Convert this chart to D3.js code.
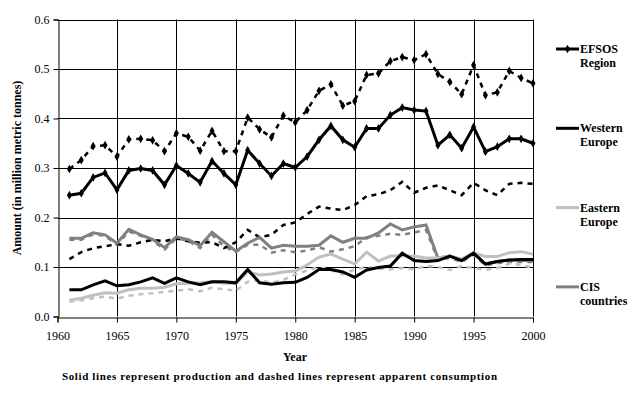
<!DOCTYPE html>
<html lang="en">
<head>
<meta charset="UTF-8">
<title>Production and apparent consumption</title>
<script src="https://d3js.org/d3.v7.min.js"></script>
<style>
    body { margin: 0; background: #fff; }
    svg { display: block; }
    .grid line { stroke: #000; stroke-width: 1px; }
</style>
</head>
<body>
<svg width="642" height="394"></svg>
<script>
// years 1961-2000
const years = d3.range(1961, 2001);

// solid = production, dashed = apparent consumption
const efsosProd = [0.245,0.249,0.281,0.290,0.256,0.295,0.299,0.295,0.266,0.305,
                   0.289,0.271,0.314,0.289,0.266,0.336,0.309,0.284,0.309,0.301,
                   0.323,0.357,0.385,0.357,0.342,0.380,0.380,0.407,0.422,0.417,
                   0.415,0.346,0.367,0.340,0.383,0.333,0.343,0.359,0.359,0.350];
const efsosCons = [0.298,0.316,0.344,0.346,0.323,0.358,0.359,0.356,0.334,0.370,
                   0.363,0.335,0.375,0.334,0.334,0.402,0.378,0.362,0.406,0.392,
                   0.417,0.456,0.469,0.426,0.435,0.488,0.491,0.516,0.524,0.518,
                   0.530,0.490,0.474,0.449,0.508,0.447,0.453,0.496,0.482,0.471];
const westProd = [0.054,0.054,0.064,0.072,0.062,0.064,0.070,0.078,0.067,0.078,
                  0.070,0.064,0.070,0.070,0.068,0.095,0.068,0.065,0.068,0.069,
                  0.079,0.095,0.095,0.090,0.079,0.094,0.099,0.102,0.128,0.113,
                  0.111,0.113,0.122,0.113,0.128,0.106,0.111,0.114,0.115,0.115];
const westCons = [0.116,0.130,0.138,0.142,0.146,0.143,0.150,0.155,0.152,0.158,
                  0.152,0.149,0.150,0.138,0.150,0.175,0.160,0.165,0.185,0.190,
                  0.207,0.222,0.218,0.215,0.225,0.243,0.247,0.255,0.272,0.250,
                  0.260,0.265,0.255,0.245,0.270,0.255,0.245,0.268,0.270,0.268];
const eastProd = [0.033,0.037,0.043,0.048,0.047,0.054,0.057,0.057,0.059,0.066,
                  0.067,0.068,0.070,0.067,0.067,0.090,0.084,0.086,0.090,0.092,
                  0.104,0.120,0.126,0.116,0.106,0.130,0.112,0.122,0.122,0.122,
                  0.118,0.118,0.122,0.116,0.129,0.121,0.121,0.129,0.131,0.126];
const eastCons = [0.030,0.033,0.037,0.040,0.036,0.042,0.045,0.047,0.050,0.052,
                  0.055,0.051,0.058,0.055,0.052,0.070,0.074,0.068,0.074,0.085,
                  0.093,0.100,0.094,0.085,0.095,0.100,0.097,0.095,0.098,0.095,
                  0.102,0.100,0.094,0.102,0.098,0.094,0.098,0.107,0.104,0.099];
const cisProd = [0.158,0.158,0.169,0.165,0.148,0.176,0.165,0.156,0.139,0.161,
                 0.155,0.143,0.170,0.151,0.132,0.148,0.160,0.138,0.144,0.142,
                 0.142,0.144,0.163,0.150,0.158,0.158,0.169,0.187,0.175,0.181,
                 0.185,0.118,0.122,0.113,0.129,0.106,0.111,0.114,0.113,0.113];
const cisCons = [0.155,0.155,0.166,0.163,0.145,0.172,0.163,0.153,0.135,0.158,
                 0.153,0.138,0.165,0.142,0.130,0.145,0.145,0.129,0.134,0.130,
                 0.133,0.140,0.131,0.136,0.142,0.160,0.163,0.167,0.165,0.170,
                 0.175,0.115,0.118,0.110,0.125,0.103,0.108,0.110,0.110,0.110];

const yTicks = [0, 0.1, 0.2, 0.3, 0.4, 0.5, 0.6];
const xTicks = d3.range(1960, 2001, 5);
const legendNames = [["EFSOS", "Region"], ["Western", "Europe"], ["Eastern", "Europe"], ["CIS", "countries"]];

const FONT = "'Liberation Serif', 'Times New Roman', Times, 'DejaVu Serif', serif";

const svg = d3.select("svg");
const x = d3.scaleLinear().domain([1960, 2000]).range([57.5, 533]);
const y = d3.scaleLinear().domain([0, 0.6]).range([316.5, 19.5]);

// grid
const grid = svg.append("g").attr("class", "grid");
grid.selectAll(".h").data(yTicks.slice(1)).enter().append("line")
    .attr("x1", x(1960)).attr("x2", x(2000))
    .attr("y1", d => Math.round(y(d)) + 0.5).attr("y2", d => Math.round(y(d)) + 0.5);
grid.selectAll(".v").data(xTicks.slice(1)).enter().append("line")
    .attr("x1", d => Math.round(x(d)) + 0.5).attr("x2", d => Math.round(x(d)) + 0.5)
    .attr("y1", y(0.6)).attr("y2", y(0));

// axes
const xAxis = svg.append("g").attr("transform", `translate(0,${Math.round(y(0)) + 0.5})`)
    .call(d3.axisBottom(x).tickValues(xTicks).tickFormat(d3.format("d")).tickSize(5).tickPadding(9));
const yAxis = svg.append("g").attr("transform", `translate(${Math.round(x(1960)) + 0.5},0)`)
    .call(d3.axisLeft(y).tickValues(yTicks).tickFormat(d3.format(".1f")).tickSize(5).tickPadding(4));
[xAxis, yAxis].forEach(a => {
    a.attr("font-family", FONT).attr("font-size", 12);
    a.select(".domain").attr("stroke", "#000").attr("stroke-width", 1);
    a.selectAll(".tick line").attr("stroke", "#000");
    a.selectAll(".tick text").attr("fill", "#000");
});

// series
const series = [
    {v: cisCons,   color: "#808080", dash: "5,5", w: 2.5},
    {v: eastCons,  color: "#c0c0c0", dash: "5,5", w: 2.5},
    {v: westCons,  color: "#000",    dash: "5,5", w: 2.5},
    {v: efsosCons, color: "#000",    dash: "5,5", w: 2.5, marker: true},
    {v: cisProd,   color: "#808080", dash: null,  w: 3},
    {v: eastProd,  color: "#c0c0c0", dash: null,  w: 3},
    {v: westProd,  color: "#000",    dash: null,  w: 3},
    {v: efsosProd, color: "#000",    dash: null,  w: 3, marker: true}
];
const line = d3.line().x((d, i) => x(years[i])).y(d => y(d));
const diamond = d3.symbol().type(d3.symbolDiamond).size(22);

series.forEach(s => {
    svg.append("path").datum(s.v)
        .attr("fill", "none").attr("stroke", s.color).attr("stroke-width", s.w)
        .attr("stroke-dasharray", s.dash).attr("stroke-linejoin", "miter")
        .attr("d", line);
    if (s.marker) {
        svg.append("g").selectAll("path").data(s.v).enter().append("path")
            .attr("d", diamond).attr("fill", "#000")
            .attr("transform", (d, i) => `translate(${x(years[i])},${y(d)})`);
    }
});

// bold serif labels
function label(sel) {
    return sel.append("text").attr("font-family", FONT).attr("font-weight", "bold")
        .attr("font-size", 12).attr("fill", "#000");
}

// legend
const legendColors = ["#000", "#000", "#c0c0c0", "#808080"];
const lg = svg.append("g");
legendNames.forEach((n, i) => {
    const ly = 49 + i * 79.3;
    lg.append("line").attr("x1", 556).attr("x2", 579).attr("y1", ly).attr("y2", ly)
        .attr("stroke", legendColors[i]).attr("stroke-width", 3);
    if (i === 0) lg.append("path").attr("d", diamond).attr("transform", `translate(567.5,${ly})`);
    label(lg).attr("x", 580).attr("y", ly + 4).text(n[0]);
    label(lg).attr("x", 580).attr("y", ly + 18).text(n[1]);
});

// titles
label(svg).attr("text-anchor", "middle")
    .attr("transform", "translate(21,168) rotate(-90)").text("Amount (in million metric tonnes)");
label(svg).attr("text-anchor", "middle")
    .attr("x", 295).attr("y", 361).text("Year");
label(svg).attr("font-size", 11)
    .attr("x", 62).attr("y", 380).attr("textLength", 435)
    .text("Solid lines represent production and dashed lines represent apparent consumption");
</script>
</body>
</html>
